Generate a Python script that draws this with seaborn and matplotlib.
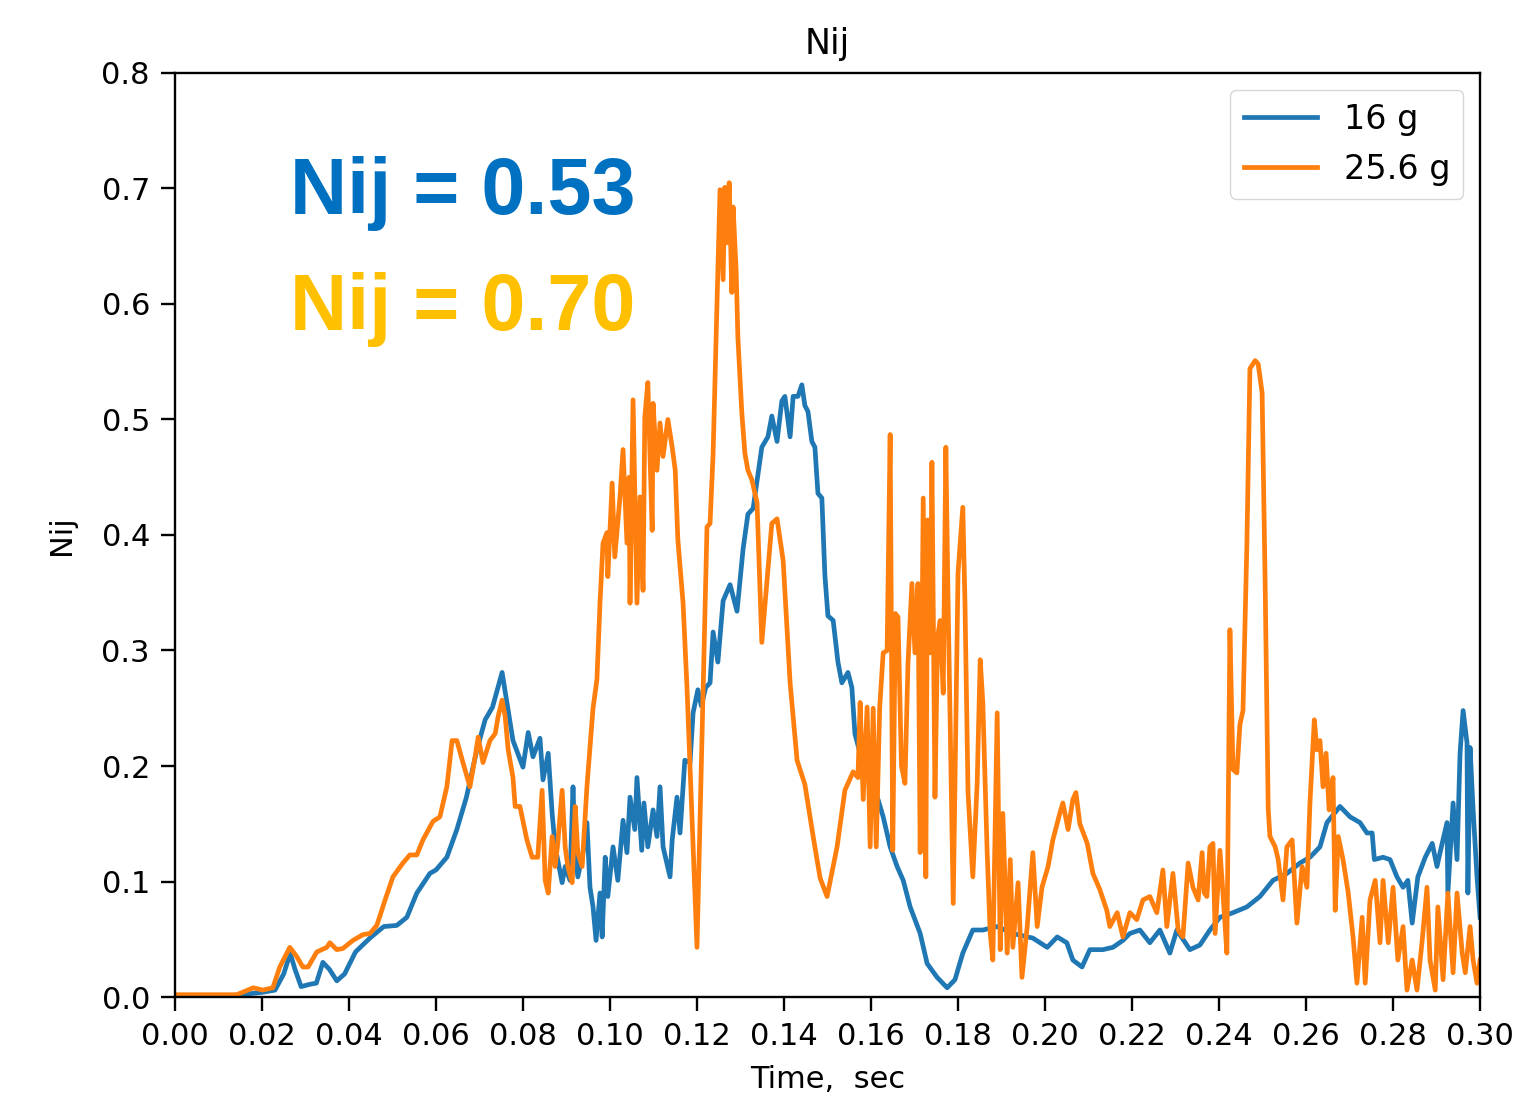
import matplotlib
matplotlib.use("Agg")
import matplotlib.pyplot as plt
import seaborn as sns

# -------------------------
# Data
# -------------------------
t_16 = [0.000, 0.010, 0.015, 0.020, 0.023, 0.025, 0.0265, 0.0275, 0.029, 0.031,
        0.0325, 0.034, 0.0355, 0.0372, 0.039, 0.0415, 0.0448, 0.048, 0.051, 0.0533,
        0.0556, 0.0586, 0.060, 0.0625, 0.0648, 0.067, 0.0694, 0.0713, 0.073, 0.0752,
        0.0765, 0.0777, 0.080, 0.0812, 0.0823, 0.0839, 0.0846, 0.0858, 0.0867, 0.0874,
        0.089, 0.0897, 0.0908, 0.0915, 0.092, 0.0926, 0.0938, 0.0947, 0.0954, 0.0961,
        0.0968, 0.0977, 0.0982, 0.0989, 0.0995, 0.1007, 0.1018, 0.103, 0.1039, 0.1046,
        0.1057, 0.1062, 0.1073, 0.1078, 0.1087, 0.1099, 0.1108, 0.1115, 0.1122, 0.1138,
        0.1143, 0.1154, 0.1161, 0.1172, 0.1184, 0.1191, 0.1202, 0.1210, 0.1220, 0.123,
        0.1237, 0.1248, 0.126, 0.1276, 0.1292, 0.1299, 0.1306, 0.1317, 0.1329, 0.1349,
        0.1363, 0.1372, 0.1384, 0.1395, 0.1402, 0.1414, 0.1421, 0.1432, 0.1441, 0.1448,
        0.1455, 0.1464, 0.1471, 0.1478, 0.1487, 0.1494, 0.1501, 0.1513, 0.1524, 0.1533,
        0.1547, 0.1556, 0.1563, 0.1575, 0.1605, 0.1628, 0.1644, 0.166, 0.1674, 0.169,
        0.1713, 0.1729, 0.1752, 0.1775, 0.1793, 0.1811, 0.1834, 0.1857, 0.189, 0.1926,
        0.1972, 0.2005, 0.2028, 0.205, 0.2064, 0.2085, 0.2103, 0.2133, 0.2156, 0.2179,
        0.2195, 0.2218, 0.2241, 0.2264, 0.2287, 0.2303, 0.2333, 0.2356, 0.2379, 0.2402,
        0.2432, 0.2464, 0.2494, 0.2524, 0.2556, 0.2586, 0.2609, 0.2632, 0.2648, 0.2678,
        0.2701, 0.2724, 0.274, 0.2752, 0.2757, 0.2777, 0.2793, 0.2809, 0.2823, 0.2834,
        0.2844, 0.2857, 0.2874, 0.289, 0.2901, 0.2908, 0.2924, 0.2926, 0.2938, 0.2947,
        0.2954, 0.2961, 0.297, 0.2972, 0.2977, 0.2984, 0.2993, 0.300]
nij_16 = [0.000, 0.000, 0.002, 0.004, 0.006, 0.020, 0.038, 0.025, 0.009, 0.011,
          0.012, 0.030, 0.024, 0.014, 0.020, 0.039, 0.051, 0.061, 0.062, 0.069,
          0.090, 0.107, 0.110, 0.121, 0.145, 0.173, 0.214, 0.240, 0.251, 0.281,
          0.250, 0.222, 0.199, 0.229, 0.208, 0.224, 0.188, 0.211, 0.159, 0.130,
          0.099, 0.113, 0.101, 0.182, 0.125, 0.104, 0.125, 0.151, 0.095, 0.078,
          0.049, 0.090, 0.052, 0.121, 0.087, 0.130, 0.101, 0.153, 0.125, 0.173,
          0.145, 0.190, 0.127, 0.168, 0.130, 0.162, 0.139, 0.182, 0.130, 0.104,
          0.136, 0.173, 0.142, 0.205, 0.203, 0.246, 0.266, 0.252, 0.268, 0.272,
          0.316, 0.290, 0.343, 0.357, 0.334, 0.361, 0.388, 0.418, 0.423, 0.476,
          0.485, 0.503, 0.481, 0.516, 0.520, 0.485, 0.520, 0.520, 0.530, 0.512,
          0.507, 0.481, 0.476, 0.436, 0.432, 0.365, 0.330, 0.326, 0.290, 0.272,
          0.281, 0.268, 0.228, 0.211, 0.185, 0.156, 0.130, 0.113, 0.101, 0.078,
          0.055, 0.029, 0.017, 0.008, 0.015, 0.038, 0.058, 0.058, 0.061, 0.055,
          0.051, 0.043, 0.052, 0.047, 0.032, 0.026, 0.041, 0.041, 0.043, 0.049,
          0.055, 0.058, 0.047, 0.058, 0.038, 0.058, 0.041, 0.045, 0.058, 0.069,
          0.073, 0.078, 0.087, 0.101, 0.107, 0.116, 0.121, 0.130, 0.151, 0.165,
          0.156, 0.151, 0.142, 0.142, 0.119, 0.121, 0.119, 0.104, 0.095, 0.101,
          0.064, 0.104, 0.121, 0.133, 0.113, 0.125, 0.151, 0.090, 0.168, 0.119,
          0.211, 0.248, 0.220, 0.090, 0.216, 0.162, 0.104, 0.069]

t_256 = [0.000, 0.010, 0.0142, 0.018, 0.0202, 0.0225, 0.0241, 0.0264, 0.028, 0.0294,
         0.0306, 0.0326, 0.0349, 0.0356, 0.0372, 0.0386, 0.0409, 0.0432, 0.0448, 0.0464,
         0.0483, 0.0501, 0.0524, 0.054, 0.0556, 0.057, 0.0593, 0.0609, 0.0625, 0.0637,
         0.0648, 0.0662, 0.0678, 0.069, 0.0697, 0.0708, 0.0724, 0.0736, 0.0743, 0.0752,
         0.0759, 0.0766, 0.0777, 0.0782, 0.0793, 0.0809, 0.0821, 0.0834, 0.0844, 0.0851,
         0.0858, 0.0867, 0.0874, 0.088, 0.089, 0.0897, 0.0903, 0.0913, 0.092, 0.0926,
         0.0936, 0.0947, 0.0954, 0.0961, 0.097, 0.0977, 0.0984, 0.0993, 0.0995, 0.1005,
         0.1011, 0.1023, 0.103, 0.1039, 0.1044, 0.1046, 0.1053, 0.1062, 0.1069, 0.1076,
         0.108, 0.1087, 0.1097, 0.1099, 0.1108, 0.1115, 0.1122, 0.1133, 0.1143, 0.115,
         0.1156, 0.1168, 0.1177, 0.120, 0.1214, 0.1223, 0.123, 0.1237, 0.1246, 0.1253,
         0.126, 0.1264, 0.1269, 0.1274, 0.128, 0.1283, 0.129, 0.1294, 0.1303, 0.131,
         0.1317, 0.1326, 0.1338, 0.1349, 0.1361, 0.1372, 0.1384, 0.1398, 0.1414, 0.143,
         0.1448, 0.1467, 0.1483, 0.1499, 0.1522, 0.154, 0.1559, 0.157, 0.1575, 0.1582,
         0.1591, 0.1598, 0.1605, 0.1612, 0.162, 0.1628, 0.1637, 0.1644, 0.165, 0.1656,
         0.1662, 0.167, 0.1678, 0.1685, 0.1694, 0.1701, 0.1708, 0.1713, 0.172, 0.1726,
         0.173, 0.1736, 0.174, 0.1747, 0.1753, 0.1759, 0.1766, 0.1772, 0.1777, 0.1789,
         0.180, 0.1811, 0.1816, 0.1823, 0.1834, 0.1844, 0.1851, 0.1857, 0.1867, 0.1874,
         0.188, 0.189, 0.1897, 0.1903, 0.1913, 0.192, 0.1926, 0.1938, 0.1947, 0.1959,
         0.1972, 0.1982, 0.1993, 0.2007, 0.2018, 0.2034, 0.2041, 0.2053, 0.2064, 0.2071,
         0.208, 0.2097, 0.211, 0.2126, 0.2142, 0.2149, 0.2166, 0.2179, 0.2195, 0.2211,
         0.2225, 0.2241, 0.2257, 0.2271, 0.228, 0.2294, 0.2306, 0.2317, 0.2329, 0.234,
         0.2352, 0.2361, 0.2366, 0.2372, 0.2379, 0.2386, 0.2391, 0.2402, 0.2409, 0.2418,
         0.2425, 0.2432, 0.2441, 0.2448, 0.2455, 0.2464, 0.2471, 0.2483, 0.249, 0.2499,
         0.2506, 0.2513, 0.2517, 0.2529, 0.2536, 0.2547, 0.2556, 0.2568, 0.2579, 0.2591,
         0.2602, 0.2609, 0.2619, 0.2625, 0.2632, 0.2639, 0.2646, 0.2653, 0.2662, 0.2667,
         0.2674, 0.2685, 0.2697, 0.2708, 0.2717, 0.2729, 0.2736, 0.2747, 0.2759, 0.277,
         0.2777, 0.2789, 0.280, 0.2811, 0.2823, 0.2832, 0.2844, 0.2855, 0.2867, 0.2878,
         0.2885, 0.2897, 0.2903, 0.2915, 0.2926, 0.2938, 0.2947, 0.2959, 0.2966, 0.2977,
         0.2984, 0.2993, 0.300]
nij_256 = [0.002, 0.002, 0.002, 0.008, 0.006, 0.008, 0.026, 0.043, 0.035, 0.026,
           0.026, 0.039, 0.043, 0.047, 0.041, 0.042, 0.049, 0.054, 0.055, 0.062,
           0.084, 0.104, 0.116, 0.123, 0.123, 0.136, 0.152, 0.156, 0.182, 0.222,
           0.222, 0.203, 0.182, 0.208, 0.225, 0.203, 0.222, 0.228, 0.243, 0.257,
           0.243, 0.214, 0.190, 0.165, 0.165, 0.136, 0.121, 0.121, 0.179, 0.101,
           0.090, 0.139, 0.113, 0.133, 0.179, 0.130, 0.113, 0.099, 0.165, 0.125,
           0.113, 0.182, 0.216, 0.250, 0.275, 0.341, 0.393, 0.402, 0.364, 0.445,
           0.381, 0.433, 0.474, 0.393, 0.450, 0.341, 0.517, 0.341, 0.433, 0.352,
           0.502, 0.532, 0.404, 0.514, 0.456, 0.497, 0.468, 0.500, 0.476, 0.456,
           0.396, 0.341, 0.268, 0.043, 0.266, 0.407, 0.410, 0.470, 0.601, 0.699,
           0.621, 0.701, 0.653, 0.705, 0.610, 0.684, 0.629, 0.571, 0.506, 0.471,
           0.456, 0.448, 0.428, 0.307, 0.361, 0.410, 0.414, 0.378, 0.272, 0.205,
           0.184, 0.139, 0.103, 0.087, 0.130, 0.179, 0.195, 0.190, 0.255, 0.171,
           0.251, 0.130, 0.250, 0.130, 0.251, 0.298, 0.300, 0.487, 0.127, 0.332,
           0.329, 0.200, 0.185, 0.289, 0.358, 0.298, 0.358, 0.125, 0.432, 0.104,
           0.413, 0.298, 0.463, 0.173, 0.312, 0.326, 0.263, 0.476, 0.346, 0.081,
           0.367, 0.424, 0.341, 0.177, 0.104, 0.185, 0.292, 0.255, 0.125, 0.055,
           0.032, 0.246, 0.041, 0.159, 0.038, 0.119, 0.043, 0.099, 0.017, 0.061,
           0.125, 0.061, 0.095, 0.113, 0.136, 0.159, 0.168, 0.145, 0.171, 0.177,
           0.150, 0.133, 0.107, 0.093, 0.075, 0.061, 0.073, 0.052, 0.073, 0.067,
           0.084, 0.087, 0.073, 0.110, 0.061, 0.107, 0.058, 0.052, 0.116, 0.095,
           0.084, 0.125, 0.090, 0.087, 0.130, 0.133, 0.055, 0.127, 0.090, 0.038,
           0.318, 0.197, 0.194, 0.236, 0.248, 0.392, 0.544, 0.551, 0.548, 0.523,
           0.357, 0.163, 0.139, 0.130, 0.119, 0.084, 0.130, 0.136, 0.064, 0.113,
           0.095, 0.168, 0.240, 0.214, 0.222, 0.182, 0.211, 0.162, 0.190, 0.075,
           0.139, 0.119, 0.090, 0.052, 0.012, 0.069, 0.012, 0.084, 0.101, 0.047,
           0.101, 0.047, 0.095, 0.032, 0.061, 0.006, 0.032, 0.006, 0.049, 0.095,
           0.032, 0.006, 0.078, 0.015, 0.090, 0.021, 0.090, 0.038, 0.021, 0.061,
           0.032, 0.012, 0.032]

x_ticks = [0.00, 0.02, 0.04, 0.06, 0.08, 0.10, 0.12, 0.14, 0.16, 0.18,
           0.20, 0.22, 0.24, 0.26, 0.28, 0.30]
y_ticks = [0.0, 0.1, 0.2, 0.3, 0.4, 0.5, 0.6, 0.7, 0.8]

# -------------------------
# Plot
# -------------------------
fig = plt.figure(figsize=(15.32, 10.99), dpi=100)
ax = fig.add_axes([0.1142, 0.0928, 0.8519, 0.8408])

sns.lineplot(x=t_16, y=nij_16, ax=ax, color='#1f77b4', linewidth=3.4,
             label='16 g', estimator=None, sort=False)
sns.lineplot(x=t_256, y=nij_256, ax=ax, color='#ff7f0e', linewidth=3.4,
             label='25.6 g', estimator=None, sort=False)

ax.set_xlim(0, 0.30)
ax.set_ylim(0, 0.8)
ax.set_xticks(x_ticks)
ax.set_xticklabels([f"{v:.2f}" for v in x_ticks])
ax.set_yticks(y_ticks)
ax.set_yticklabels([f"{v:.1f}" for v in y_ticks])
ax.tick_params(labelsize=22, length=10, width=1.7, pad=8)
for s in ax.spines.values():
    s.set_linewidth(1.7)

ax.set_title("Nij", fontsize=25, pad=14)
ax.set_xlabel("Time,  sec", fontsize=22, labelpad=10)
ax.set_ylabel("Nij", fontsize=22, labelpad=18)

leg = ax.legend(loc='upper right', fontsize=24, handlelength=2.2)
for line in leg.get_lines():
    line.set_linewidth(3.4)

ax.text(0.088, 0.870, "Nij = 0.53", transform=ax.transAxes, fontsize=57,
        fontweight='bold', color='#0070C0', family='Liberation Sans', va='center')
ax.text(0.088, 0.744, "Nij = 0.70", transform=ax.transAxes, fontsize=57,
        fontweight='bold', color='#FFC000', family='Liberation Sans', va='center')

plt.savefig("out.png", dpi=100)
